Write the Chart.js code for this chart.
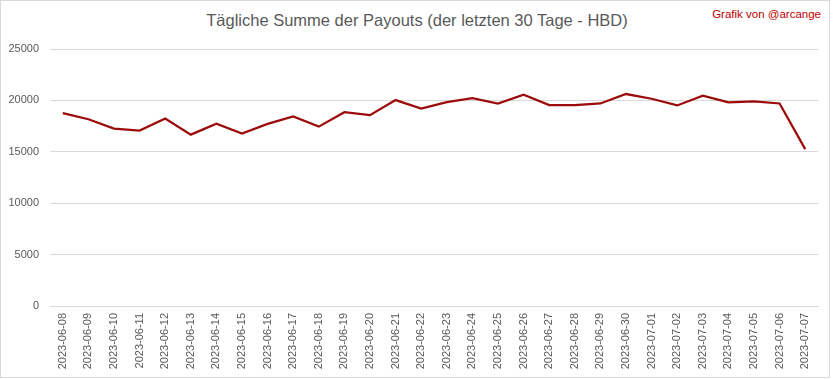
<!DOCTYPE html>
<html>
<head>
<meta charset="utf-8">
<script src="https://cdn.jsdelivr.net/npm/chart.js@4/dist/chart.umd.min.js"></script>
<style>
    body { margin: 0; background: #fff; }
    #frame { position: relative; width: 830px; height: 378px; border: 1px solid #d9d9d9; box-sizing: border-box; }
    #chart-title { position: absolute; left: 0; width: 832px; top: 10px; text-align: center; font-family: "Liberation Sans", sans-serif; font-size: 16.5px; color: #595959; }
    #credit { position: absolute; right: 8px; top: 7px; font-family: "Liberation Sans", sans-serif; font-size: 11.5px; color: #c00000; }
    canvas { position: absolute; left: -1px; top: -1px; }
</style>
</head>
<body>
<div id="frame">
    <div id="chart-title">Tägliche Summe der Payouts (der letzten 30 Tage - HBD)</div>
    <div id="credit">Grafik von @arcange</div>
    <canvas id="payoutChart" width="833" height="379"></canvas>
</div>
<script>
const dates = [
    "2023-06-08", "2023-06-09", "2023-06-10", "2023-06-11", "2023-06-12", "2023-06-13",
    "2023-06-14", "2023-06-15", "2023-06-16", "2023-06-17", "2023-06-18", "2023-06-19",
    "2023-06-20", "2023-06-21", "2023-06-22", "2023-06-23", "2023-06-24", "2023-06-25",
    "2023-06-26", "2023-06-27", "2023-06-28", "2023-06-29", "2023-06-30", "2023-07-01",
    "2023-07-02", "2023-07-03", "2023-07-04", "2023-07-05", "2023-07-06", "2023-07-07"
];
const payouts = [
    18760, 18170, 17250, 17060, 18230, 16670,
    17740, 16770, 17710, 18430, 17450, 18850,
    18560, 20030, 19210, 19830, 20230, 19700,
    20550, 19540, 19540, 19700, 20620, 20160,
    19510, 20460, 19800, 19900, 19700, 15260
];
const yMax = 25000;
const yStep = 5000;

const ctx = document.getElementById('payoutChart').getContext('2d');
new Chart(ctx, {
    type: 'line',
    data: {
        labels: dates,
        datasets: [{
            data: payouts,
            borderColor: '#9c0a0a',
            borderWidth: 2.25,
            pointRadius: 0,
            tension: 0,
            fill: false
        }]
    },
    options: {
        responsive: false,
        animation: false,
        layout: { padding: { top: 49, right: 15, left: 0, bottom: 0 } },
        plugins: { legend: { display: false }, tooltip: { enabled: false } },
        scales: {
            x: {
                offset: true,
                grid: { display: false, drawTicks: false },
                border: { color: '#d9d9d9' },
                ticks: {
                    autoSkip: false, minRotation: 90, maxRotation: 90, padding: 7,
                    color: '#595959', font: { family: 'Liberation Sans', size: 11 }
                },
                afterFit: (s) => { s.height = 73; }
            },
            y: {
                min: 0, max: yMax,
                grid: { color: '#d9d9d9', drawTicks: false },
                border: { display: false },
                ticks: {
                    stepSize: yStep, padding: 11,
                    color: '#595959', font: { family: 'Liberation Sans', size: 11 },
                    callback: (v) => String(v)
                },
                afterFit: (s) => { s.width = 50; }
            }
        }
    }
});
</script>
</body>
</html>
